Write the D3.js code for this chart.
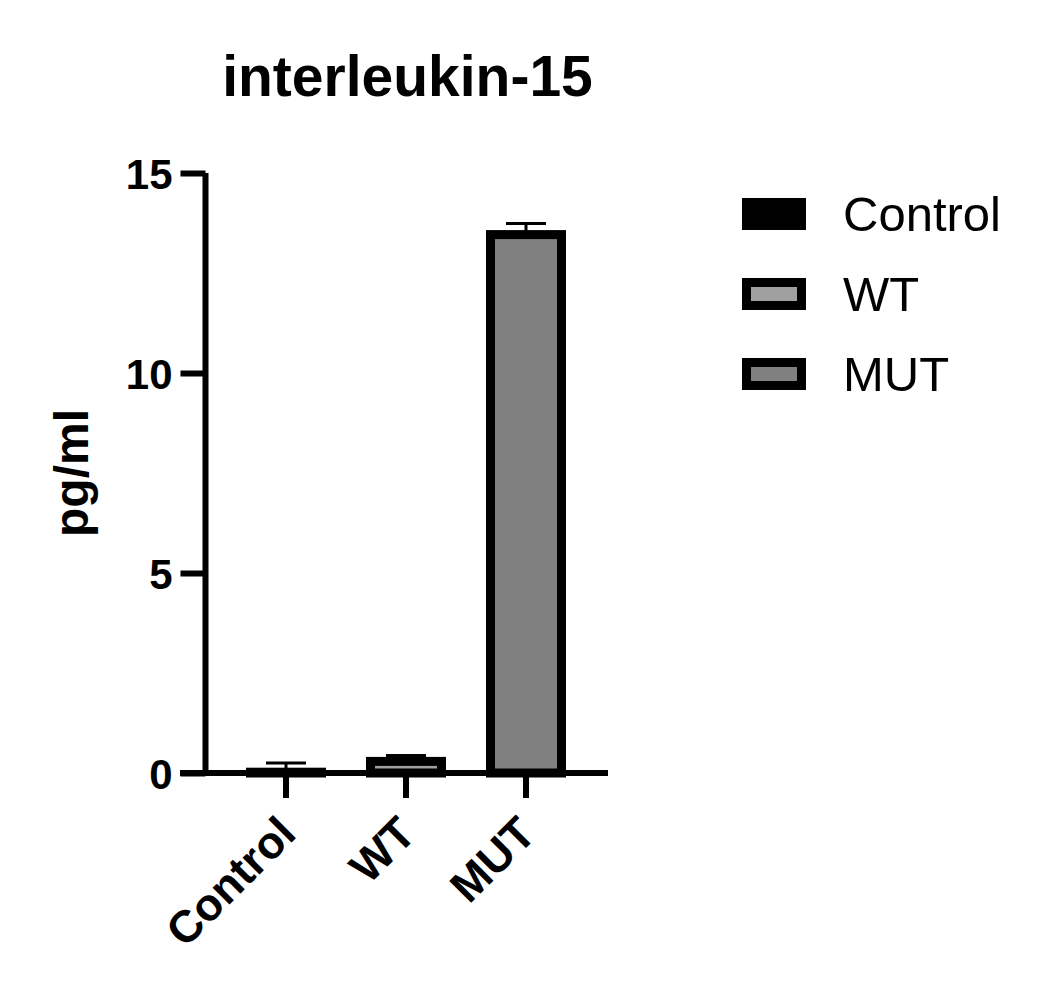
<!DOCTYPE html>
<html>
<head>
<meta charset="utf-8">
<script src="https://cdn.jsdelivr.net/npm/d3@7"></script>
<style>
  html, body { margin: 0; padding: 0; background: #fff; }
  svg { display: block; font-family: "Liberation Sans", Arial, sans-serif; }
</style>
</head>
<body>
<svg id="chart" width="1046" height="993"></svg>
<script>
// ---- data ----
const categories = ["Control", "WT", "MUT"];
const means = [0.02, 0.29, 13.46];
const errors = [0.23, 0.15, 0.28];
const fills = ["#000000", "#a0a0a0", "#808080"];
const yTicks = [0, 5, 10, 15];
const title = "interleukin-15";
const yLabel = "pg/ml";

const svg = d3.select("#chart");

const y = d3.scaleLinear().domain([0, 15]).range([773, 173]);
const x = d3.scaleBand().domain(categories).range([226, 586]).padding(0);
const axisX = 205.5;
const barW = x.bandwidth() * 2 / 3 - 9; // outer width 80 with 9px stroke
const sw = 9;

// title
svg.append("text")
  .attr("x", 407.5).attr("y", 96)
  .attr("text-anchor", "middle")
  .attr("font-weight", "bold").attr("font-size", 57)
  .text(title);

// y label
svg.append("text")
  .attr("transform", `translate(88, ${(y(0) + y(15)) / 2}) rotate(-90)`)
  .attr("text-anchor", "middle")
  .attr("font-weight", "bold").attr("font-size", 48)
  .text(yLabel);

// error bars (drawn first, behind bars)
const g = svg.append("g");
categories.forEach((c, i) => {
  const cx = x(c) + x.bandwidth() / 2;
  g.append("line")
    .attr("x1", cx).attr("x2", cx)
    .attr("y1", y(means[i])).attr("y2", y(means[i] + errors[i]))
    .attr("stroke", "#000").attr("stroke-width", 3);
  g.append("line")
    .attr("x1", cx - 20).attr("x2", cx + 20)
    .attr("y1", y(means[i] + errors[i])).attr("y2", y(means[i] + errors[i]))
    .attr("stroke", "#000").attr("stroke-width", 3);
});

// bars
svg.append("g").selectAll("rect")
  .data(categories)
  .join("rect")
  .attr("x", (c) => x(c) + x.bandwidth() / 2 - barW / 2)
  .attr("width", barW)
  .attr("y", (c, i) => y(means[i]))
  .attr("height", (c, i) => y(0) - y(means[i]))
  .attr("fill", (c, i) => fills[i])
  .attr("stroke", "#000")
  .attr("stroke-width", sw);

// y axis
const yAxis = d3.axisLeft(y).tickValues(yTicks).tickSize(25).tickPadding(8).tickFormat(d3.format("d"));
const ya = svg.append("g").attr("transform", `translate(${axisX},0)`).call(yAxis);
ya.select(".domain").attr("d", `M0,${y(15)}V${y(0) + 3}`).attr("stroke-width", 6).attr("stroke", "#000");
ya.selectAll(".tick line").attr("stroke-width", 6).attr("stroke", "#000");
ya.selectAll(".tick text")
  .attr("font-size", 42).attr("font-weight", "bold").attr("fill", "#000")
  .attr("font-family", "Liberation Sans, Arial, sans-serif")
  .attr("x", -33).attr("dy", "0.36em");

// x axis
const xAxis = d3.axisBottom(x).tickSize(25).tickFormat("");
const xa = svg.append("g").attr("transform", `translate(0,${y(0)})`).call(xAxis);
xa.select(".domain").attr("d", "M180,0H608").attr("stroke-width", 6).attr("stroke", "#000");
xa.selectAll(".tick line").attr("stroke-width", 6).attr("stroke", "#000");

// x tick labels rotated
svg.append("g").selectAll("text")
  .data(categories)
  .join("text")
  .attr("transform", (c) => `translate(${x(c) + x.bandwidth() / 2 + 12}, 836) rotate(-45)`)
  .attr("text-anchor", "end")
  .attr("font-weight", "bold").attr("font-size", 45)
  .text((c) => c);

// legend
const leg = svg.append("g");
categories.forEach((c, i) => {
  const cy = 214 + i * 80;
  leg.append("rect")
    .attr("x", 746.5).attr("y", cy - 11.5)
    .attr("width", 55).attr("height", 23)
    .attr("fill", fills[i]).attr("stroke", "#000").attr("stroke-width", sw);
  leg.append("text")
    .attr("x", 843).attr("y", cy + 17)
    .attr("font-size", 49)
    .text(c);
});
</script>
</body>
</html>
